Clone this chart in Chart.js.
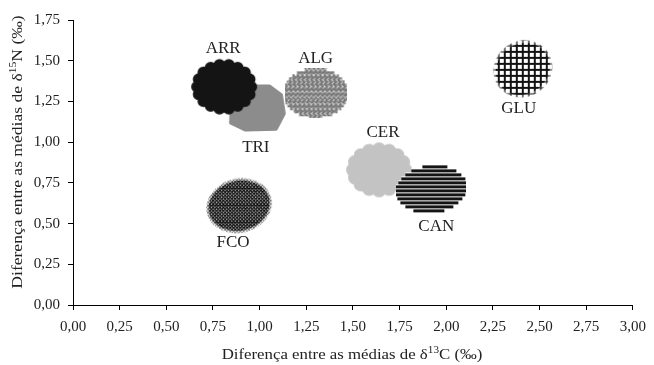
<!DOCTYPE html>
<html>
<head>
<meta charset="utf-8">
<script src="https://cdn.jsdelivr.net/npm/chart.js@4"></script>
<style>
  html, body { margin: 0; padding: 0; background: #fff; }
  #wrap { width: 654px; height: 365px; }
</style>
</head>
<body>
<div id="wrap"><canvas id="chart" width="654" height="365"></canvas></div>
<script>
// data, in drawing order (later ones on top)
const groups = ['TRI', 'ARR', 'ALG', 'CER', 'CAN', 'FCO', 'GLU'];
const diffC13 = [0.985, 0.81, 1.30, 1.64, 1.92, 0.89, 2.41];
const diffN15 = [1.21, 1.34, 1.30, 0.83, 0.71, 0.61, 1.45];
const xTicks = [0, 0.25, 0.5, 0.75, 1, 1.25, 1.5, 1.75, 2, 2.25, 2.5, 2.75, 3];
const yTicks = [0, 0.25, 0.5, 0.75, 1, 1.25, 1.5, 1.75];

// where each group label sits relative to its blob (px)
const labelOffset = {
  TRI: [-1, 40], ARR: [-1, -38], ALG: [0, -35], CER: [4, -37],
  CAN: [5, 37], FCO: [-6, 37], GLU: [-4, 40]
};

const serif = '"Liberation Serif", "Times New Roman", serif';
const fmt = v => v.toFixed(2).replace('.', ',');

// ---- blob markers ----
function blobCanvas(w, h, draw) {
  const c = document.createElement('canvas');
  c.width = w; c.height = h;
  draw(c.getContext('2d'), w, h);
  return c;
}

function scallop(ctx, cx, cy, rx, ry, n, br) {
  ctx.beginPath();
  ctx.ellipse(cx, cy, rx - br, ry - br, 0, 0, Math.PI * 2);
  for (let i = 0; i < n; i++) {
    const a = i / n * Math.PI * 2;
    const px = cx + (rx - br) * Math.cos(a);
    const py = cy + (ry - br) * Math.sin(a);
    ctx.moveTo(px + br, py);
    ctx.arc(px, py, br, 0, Math.PI * 2);
  }
}

function hatch(ctx, w, h, step, width, color, dirs) {
  ctx.strokeStyle = color;
  ctx.lineWidth = width;
  ctx.beginPath();
  dirs.forEach(d => {
    if (d === 'v') for (let x = 1; x < w; x += step) { ctx.moveTo(x, 0); ctx.lineTo(x, h); }
    if (d === 'h') for (let y = 1; y < h; y += step) { ctx.moveTo(0, y); ctx.lineTo(w, y); }
    if (d === '/') for (let k = -h; k < w + h; k += step) { ctx.moveTo(k, h); ctx.lineTo(k + h, 0); }
    if (d === '\\') for (let k = -h; k < w + h; k += step) { ctx.moveTo(k, 0); ctx.lineTo(k + h, h); }
  });
  ctx.stroke();
}

const styles = {
  ARR: blobCanvas(68, 58, (ctx) => {
    scallop(ctx, 34, 29, 33, 28, 18, 6);
    ctx.fillStyle = '#141414';
    ctx.fill('nonzero');
  }),
  TRI: blobCanvas(60, 50, (ctx, w, h) => {
    const pts = [[0.06, 0.22], [0.3, 0.03], [0.72, 0.03], [0.93, 0.22], [0.98, 0.62],
                 [0.84, 0.95], [0.3, 0.97], [0.04, 0.82]];
    ctx.beginPath();
    pts.forEach((p, i) => {
      const x = 2 + p[0] * (w - 4), y = 2 + p[1] * (h - 4);
      i ? ctx.lineTo(x, y) : ctx.moveTo(x, y);
    });
    ctx.closePath();
    ctx.fillStyle = '#8c8c8c';
    ctx.strokeStyle = '#8c8c8c';
    ctx.lineJoin = 'round';
    ctx.lineWidth = 4;
    ctx.fill();
    ctx.stroke();
  }),
  ALG: blobCanvas(62, 50, (ctx, w, h) => {
    ctx.beginPath();
    for (let y = 0; y < h; y += 3) {
      const dy = (y + 1.5 - h / 2) / (h / 2);
      const hw = (w / 2) * Math.sqrt(Math.max(0, 1 - dy * dy)) * 1.05;
      ctx.rect(Math.max(0, w / 2 - hw), y, Math.min(w, 2 * hw), 3);
    }
    ctx.fillStyle = '#7a7a7a';
    ctx.fill();
    ctx.save();
    ctx.clip();
    ctx.setLineDash([3, 3]);
    hatch(ctx, w, h, 4.5, 1, '#f4f4f4', ['/']);
    ctx.setLineDash([3, 5]);
    hatch(ctx, 18, h, 4.5, 1, '#f4f4f4', ['\\']);
    ctx.restore();
  }),
  CER: blobCanvas(68, 57, (ctx) => {
    scallop(ctx, 34, 28.5, 33, 27.5, 16, 7);
    ctx.fillStyle = '#c3c3c3';
    ctx.fill('nonzero');
  }),
  CAN: blobCanvas(70, 50, (ctx, w, h) => {
    const rx = 34, ry = 24, cx = 35, cy = 25;
    for (let y = 1; y < h - 1; y += 4) {
      const dy = (y + 1.5 - cy) / ry;
      if (Math.abs(dy) >= 1) continue;
      const hw = rx * Math.sqrt(1 - dy * dy) * 1.04;
      const sx = cx - dy * 3;
      ctx.fillStyle = '#ffffff';
      ctx.fillRect(Math.round(sx - hw), y - 1, Math.round(2 * hw), 5);
      ctx.fillStyle = '#141414';
      ctx.fillRect(Math.round(sx - hw), y, Math.round(2 * hw), 3);
    }
  }),
  FCO: blobCanvas(70, 60, (ctx, w, h) => {
    // thin spiky fringe
    ctx.save();
    ctx.beginPath();
    ctx.ellipse(35, 30, 33, 27, -0.25, 0, Math.PI * 2);
    ctx.clip();
    hatch(ctx, w, h, 3.4, 0.7, '#222', ['/', '\\']);
    ctx.restore();
    ctx.save();
    ctx.beginPath();
    ctx.ellipse(35, 30, 31, 25, -0.25, 0, Math.PI * 2);
    ctx.clip();
    ctx.fillStyle = '#fff';
    ctx.fillRect(0, 0, w, h);
    hatch(ctx, w, h, 3.4, 1.3, '#111', ['/', '\\']);
    ctx.restore();
  }),
  GLU: blobCanvas(62, 60, (ctx, w, h) => {
    ctx.save();
    ctx.beginPath();
    ctx.ellipse(31, 30, 30, 28, -0.6, 0, Math.PI * 2);
    ctx.clip();
    hatch(ctx, w, h, 6, 1.2, '#111', ['v', 'h']);
    ctx.restore();
    ctx.save();
    ctx.beginPath();
    ctx.ellipse(31, 30, 28, 25, -0.6, 0, Math.PI * 2);
    ctx.clip();
    hatch(ctx, w, h, 6, 1.9, '#111', ['v', 'h']);
    ctx.restore();
  })
};

// ---- plugins: group labels + axis titles with superscripts ----
const groupLabels = {
  id: 'groupLabels',
  afterDatasetsDraw(chart) {
    const ctx = chart.ctx;
    const xs = chart.scales.x, ys = chart.scales.y;
    ctx.save();
    ctx.font = '17px ' + serif;
    ctx.fillStyle = '#222';
    ctx.textAlign = 'center';
    ctx.textBaseline = 'middle';
    groups.forEach((g, i) => {
      const off = labelOffset[g];
      ctx.fillText(g, xs.getPixelForValue(diffC13[i]) + off[0], ys.getPixelForValue(diffN15[i]) + off[1]);
    });
    ctx.restore();
  }
};

// text run with a superscript, stretched along its length
function drawSupText(ctx, parts, stretch) {
  const big = '15px ' + serif, small = '10px ' + serif;
  let total = 0;
  parts.forEach(p => { ctx.font = p.sup ? small : big; total += ctx.measureText(p.t).width; });
  ctx.scale(stretch, 1);
  let x = -total / 2;
  parts.forEach(p => {
    ctx.font = p.sup ? small : big;
    ctx.fillText(p.t, x, p.sup ? -5 : 0);
    x += ctx.measureText(p.t).width;
  });
}

const axisTitles = {
  id: 'axisTitles',
  afterDraw(chart) {
    const ctx = chart.ctx;
    ctx.fillStyle = '#222';
    ctx.textAlign = 'left';
    ctx.textBaseline = 'middle';
    ctx.save();
    ctx.translate(352, 355);
    drawSupText(ctx, [{ t: 'Diferença entre as médias de δ' }, { t: '13', sup: true }, { t: 'C (‰)' }], 1.12);
    ctx.restore();
    ctx.save();
    ctx.translate(18, 152);
    ctx.rotate(-Math.PI / 2);
    drawSupText(ctx, [{ t: 'Diferença entre as médias de δ' }, { t: '15', sup: true }, { t: 'N (‰)' }], 1.17);
    ctx.restore();
  }
};

const axisLook = {
  grid: { display: true, drawOnChartArea: false, drawTicks: true, tickLength: 5, color: '#000', lineWidth: 1 },
  border: { display: true, color: '#000', width: 1 }
};

new Chart(document.getElementById('chart'), {
  type: 'scatter',
  data: {
    datasets: [{
      data: groups.map((g, i) => ({ x: diffC13[i], y: diffN15[i] })),
      pointStyle: groups.map(g => styles[g]),
      pointRadius: 4,
      pointHoverRadius: 4
    }]
  },
  options: {
    responsive: false,
    animation: false,
    layout: { padding: { top: 20, right: 20, left: 0, bottom: 0 } },
    plugins: { legend: { display: false }, tooltip: { enabled: false } },
    scales: {
      x: {
        type: 'linear', min: 0, max: 3,
        afterBuildTicks: s => { s.ticks = xTicks.map(v => ({ value: v })); },
        afterFit: s => { s.height = 60; },
        ticks: { callback: v => fmt(v), color: '#222', font: { family: serif, size: 15 }, padding: 8, maxRotation: 0, autoSkip: false },
        ...axisLook
      },
      y: {
        type: 'linear', min: 0, max: 1.75,
        afterBuildTicks: s => { s.ticks = yTicks.map(v => ({ value: v })); },
        afterFit: s => { s.width = 73; },
        ticks: { callback: v => fmt(v), color: '#222', font: { family: serif, size: 15 }, padding: 8, autoSkip: false },
        ...axisLook
      }
    }
  },
  plugins: [groupLabels, axisTitles]
});
</script>
</body>
</html>
